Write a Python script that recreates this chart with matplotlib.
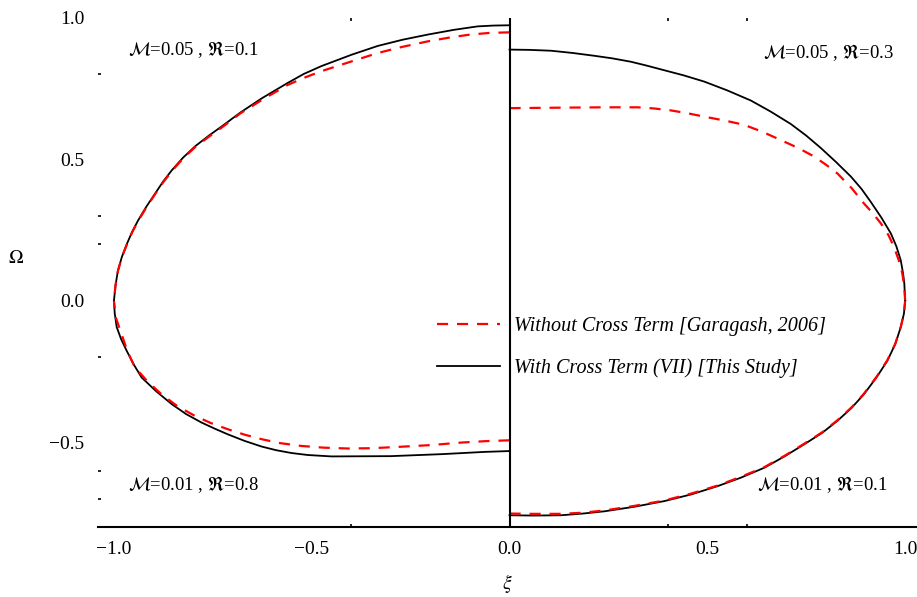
import matplotlib
matplotlib.use("Agg")
import matplotlib.pyplot as plt
from matplotlib.lines import Line2D

# Data (xi, Omega) per quadrant
# top-left: M=0.05, R=0.1
tl_xi_with = [0, -0.04, -0.081, -0.14, -0.207, -0.27, -0.333, -0.399, -0.475, -0.52, -0.561, -0.626, -0.68, -0.727,
              -0.76, -0.795, -0.826, -0.854, -0.876, -0.896, -0.918, -0.939, -0.954, -0.967, -0.98, -0.990, -0.996, -1.0]
tl_om_with = [0.974, 0.973, 0.970, 0.958, 0.941, 0.923, 0.901, 0.870, 0.830, 0.802, 0.770, 0.716, 0.666, 0.617,
              0.584, 0.546, 0.505, 0.461, 0.421, 0.379, 0.333, 0.284, 0.244, 0.202, 0.155, 0.106, 0.055, 0.0]
tl_xi_without = [0, -0.05, -0.1, -0.15, -0.207, -0.27, -0.333, -0.40, -0.475, -0.52, -0.561, -0.626, -0.68, -0.727,
                 -0.76, -0.795, -0.826, -0.854, -0.876, -0.896, -0.918, -0.939, -0.954, -0.967, -0.98, -0.990, -0.996, -1.0]
tl_om_without = [0.949, 0.947, 0.941, 0.931, 0.917, 0.898, 0.876, 0.846, 0.812, 0.788, 0.763, 0.710, 0.663, 0.613,
                 0.580, 0.543, 0.502, 0.458, 0.418, 0.377, 0.330, 0.282, 0.242, 0.200, 0.154, 0.105, 0.055, 0.0]

# bottom-left: M=0.01, R=0.8
bl_xi_with = [0, -0.063, -0.172, -0.30, -0.45, -0.51, -0.551, -0.59, -0.627, -0.67, -0.712, -0.745, -0.779, -0.818,
              -0.854, -0.893, -0.930, -0.95, -0.968, -0.982, -0.993, -0.998, -1.0]
bl_om_with = [-0.531, -0.534, -0.542, -0.549, -0.550, -0.545, -0.538, -0.528, -0.515, -0.495, -0.472, -0.452, -0.430, -0.400,
              -0.365, -0.320, -0.271, -0.225, -0.176, -0.135, -0.093, -0.045, 0.0]
bl_xi_without = [0, -0.06, -0.122, -0.20, -0.290, -0.35, -0.409, -0.47, -0.526, -0.58, -0.627, -0.67, -0.712, -0.755,
                 -0.795, -0.84, -0.880, -0.915, -0.947, -0.966, -0.981, -0.995, -1.0]
bl_om_without = [-0.493, -0.496, -0.501, -0.510, -0.517, -0.521, -0.522, -0.519, -0.513, -0.503, -0.489, -0.473, -0.454, -0.432,
                 -0.407, -0.372, -0.330, -0.285, -0.235, -0.178, -0.117, -0.06, 0.0]

# top-right: M=0.05, R=0.3
tr_xi_with = [0, 0.05, 0.105, 0.16, 0.215, 0.26, 0.307, 0.345, 0.383, 0.44, 0.492, 0.55, 0.610, 0.66, 0.711, 0.75, 0.787,
              0.825, 0.863, 0.89, 0.913, 0.94, 0.964, 0.978, 0.989, 0.995, 0.998, 1.0]
tr_om_with = [0.888, 0.887, 0.884, 0.876, 0.866, 0.857, 0.845, 0.832, 0.818, 0.797, 0.775, 0.744, 0.708, 0.669, 0.625, 0.584, 0.540,
              0.491, 0.439, 0.395, 0.350, 0.294, 0.238, 0.192, 0.143, 0.095, 0.06, 0.0]
tr_xi_without = [0, 0.07, 0.15, 0.24, 0.324, 0.365, 0.408, 0.45, 0.492, 0.545, 0.593, 0.64, 0.686, 0.73, 0.770, 0.80,
                 0.829, 0.865, 0.896, 0.918, 0.939, 0.958, 0.972, 0.984, 0.993, 0.998, 1.0]
tr_om_without = [0.681, 0.682, 0.683, 0.684, 0.684, 0.680, 0.673, 0.663, 0.651, 0.637, 0.622, 0.597, 0.568, 0.540, 0.510, 0.481,
                 0.450, 0.398, 0.344, 0.310, 0.273, 0.232, 0.190, 0.143, 0.096, 0.048, 0.0]

# bottom-right: M=0.01, R=0.1
br_xi_with = [0, 0.06, 0.130, 0.185, 0.240, 0.315, 0.391, 0.46, 0.526, 0.585, 0.644, 0.695, 0.745, 0.79, 0.829,
              0.865, 0.896, 0.928, 0.955, 0.975, 0.989, 0.997, 1.0]
br_om_with = [-0.758, -0.759, -0.758, -0.752, -0.744, -0.728, -0.708, -0.684, -0.655, -0.625, -0.590, -0.550, -0.507, -0.467, -0.424,
              -0.378, -0.330, -0.270, -0.212, -0.153, -0.093, -0.045, 0.0]
br_xi_without = [0, 0.06, 0.130, 0.185, 0.240, 0.315, 0.391, 0.46, 0.526, 0.585, 0.644, 0.695, 0.745, 0.79, 0.829,
                 0.865, 0.896, 0.928, 0.955, 0.975, 0.989, 0.997, 1.0]
br_om_without = [-0.752, -0.753, -0.753, -0.749, -0.741, -0.725, -0.706, -0.681, -0.653, -0.622, -0.588, -0.548, -0.505, -0.465, -0.422,
                 -0.376, -0.328, -0.268, -0.210, -0.152, -0.092, -0.044, 0.0]

quadrants = [
    (tl_xi_with, tl_om_with, tl_xi_without, tl_om_without),
    (bl_xi_with, bl_om_with, bl_xi_without, bl_om_without),
    (tr_xi_with, tr_om_with, tr_xi_without, tr_om_without),
    (br_xi_with, br_om_with, br_xi_without, br_om_without),
]

case_labels = [r"$\mathcal{M}$=0.05 , $\Re$=0.1", r"$\mathcal{M}$=0.05 , $\Re$=0.3",
               r"$\mathcal{M}$=0.01 , $\Re$=0.8", r"$\mathcal{M}$=0.01 , $\Re$=0.1"]
legend_labels = ["Without Cross Term [Garagash, 2006]", "With Cross Term (VII) [This Study]"]

x_ticks = [-1.0, -0.5, 0.0, 0.5, 1.0]
y_ticks = [-0.5, 0.0, 0.5, 1.0]
x_minor = [-0.5, -0.4, 0.4, 0.6]
y_minor = [0.8, 0.3, 0.2, -0.2, -0.6, -0.7]

plt.rcParams["font.family"] = ["Liberation Serif", "DejaVu Serif"]
plt.rcParams["mathtext.fontset"] = "stix"

fig = plt.figure(figsize=(9.17, 5.97), dpi=100)
ax = fig.add_axes([0.107, 0.117, 0.893, 0.853])

dash = (0, (5, 4))
for xw, yw, xo, yo in quadrants:
    ax.plot(xw, yw, color="black", lw=1.3, solid_joinstyle="round")
    ax.plot(xo, yo, color="red", lw=1.6, ls=dash)

ax.axvline(0, color="black", lw=1.5)

ax.set_xlim(-1.04, 1.03)
ax.set_ylim(-0.8, 1.0)

for s in ["left", "right", "top"]:
    ax.spines[s].set_visible(False)
ax.spines["bottom"].set_linewidth(1.5)

ax.set_xticks(x_ticks)
ax.set_xticklabels([f"{v:.1f}".replace("-", "\u2212") for v in x_ticks])
ax.set_yticks(y_ticks)
ax.set_yticklabels([f"{v:.1f}".replace("-", "\u2212") for v in y_ticks])
ax.set_xticks(x_minor, minor=True)
ax.set_yticks(y_minor, minor=True)
ax.tick_params(axis="both", which="major", length=0, labelsize=14, pad=10)
ax.tick_params(axis="x", which="minor", length=2.5, width=1.2, top=True, direction="in")
ax.tick_params(axis="y", which="minor", length=2, width=1.2, direction="in")

ax.set_xlabel(r"$\xi$", fontsize=14, labelpad=10)
ax.set_ylabel(r"$\Omega$", fontsize=14, rotation=0)
ax.yaxis.set_label_coords(-0.1, 0.51)

ax.text(-0.965, 0.887, case_labels[0], fontsize=13.5, va="center", ha="left")
ax.text(0.972, 0.876, case_labels[1], fontsize=13.5, va="center", ha="right")
ax.text(-0.965, -0.649, case_labels[2], fontsize=13.5, va="center", ha="left")
ax.text(0.955, -0.649, case_labels[3], fontsize=13.5, va="center", ha="right")

handles = [Line2D([], [], color="red", lw=1.6, ls=dash),
           Line2D([], [], color="black", lw=1.3)]
ax.legend(handles, legend_labels, loc="upper left", bbox_to_anchor=(0.414, 0.412),
          frameon=False, handlelength=3.1, handletextpad=0.7, labelspacing=1.1,
          borderpad=0, borderaxespad=0,
          prop={"family": "Liberation Serif", "style": "italic", "size": 14.5})

fig.savefig("out.png", dpi=100)
